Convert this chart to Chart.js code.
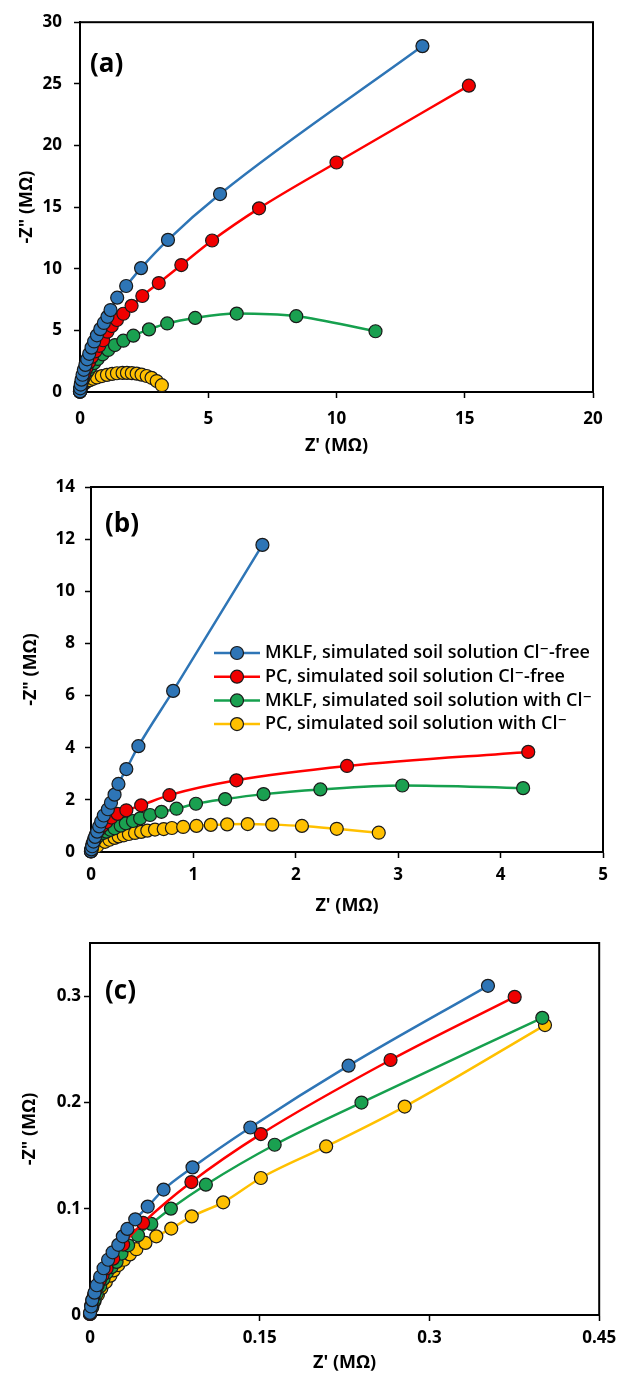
<!DOCTYPE html>
<html>
<head>
<meta charset="utf-8">
<title>EIS Nyquist plots</title>
<script src="https://cdn.jsdelivr.net/npm/chart.js@4.4.0/dist/chart.umd.min.js"></script>
<style>
  body { margin: 0; background: #fff; }
  #wrap { position: relative; width: 623px; height: 1375px; }
  canvas { position: absolute; left: 0; }
</style>
</head>
<body>
<div id="wrap">
  <canvas id="chart-a" width="623" height="460" style="top:0"></canvas>
  <canvas id="chart-b" width="623" height="460" style="top:460px"></canvas>
  <canvas id="chart-c" width="623" height="455" style="top:920px"></canvas>
</div>
<script>
// series names (same order in all three panels)
var seriesLabels = [
  "MKLF, simulated soil solution Cl\u207B-free",
  "PC, simulated soil solution Cl\u207B-free",
  "MKLF, simulated soil solution with Cl\u207B",
  "PC, simulated soil solution with Cl\u207B"
];

// tick labels
var xTicksA = [0, 5, 10, 15, 20];
var yTicksA = [0, 5, 10, 15, 20, 25, 30];
var xTicksB = [0, 1, 2, 3, 4, 5];
var yTicksB = [0, 2, 4, 6, 8, 10, 12, 14];
var xTicksC = [0, 0.15, 0.3, 0.45];
var yTicksC = [0, 0.1, 0.2, 0.3];

// panel (a) - [Z', -Z''] in MOhm
var aMklfFree = [[0,0.05],[0.01,0.3],[0.03,0.6],[0.06,1.0],[0.1,1.4],[0.15,1.8],[0.21,2.2],[0.28,2.65],[0.36,3.1],[0.45,3.6],[0.55,4.1],[0.66,4.6],[0.79,5.1],[0.93,5.6],[1.07,6.1],[1.19,6.65],[1.45,7.65],[1.8,8.6],[2.38,10.05],[3.43,12.34],[5.46,16.06],[13.35,28.06]];
var aPcFree = [[0,0.03],[0.02,0.3],[0.05,0.7],[0.1,1.1],[0.17,1.5],[0.25,1.95],[0.35,2.4],[0.47,2.85],[0.6,3.3],[0.75,3.75],[0.9,4.2],[1.07,4.89],[1.24,5.35],[1.44,5.84],[1.69,6.35],[2.01,6.99],[2.43,7.79],[3.07,8.84],[3.95,10.3],[5.15,12.29],[6.98,14.9],[10.0,18.62],[15.16,24.85]];
var aMklfCl = [[0,0.02],[0.01,0.15],[0.02,0.35],[0.04,0.6],[0.07,0.8],[0.11,1.0],[0.17,1.25],[0.24,1.5],[0.32,1.75],[0.42,2.05],[0.55,2.35],[0.69,2.68],[0.88,3.06],[1.1,3.41],[1.36,3.81],[1.69,4.16],[2.08,4.57],[2.69,5.08],[3.4,5.56],[4.49,6.01],[6.11,6.36],[8.43,6.15],[11.52,4.93]];
var aPcCl = [[0,0.02],[0.01,0.15],[0.03,0.3],[0.06,0.45],[0.12,0.6],[0.18,0.72],[0.27,0.85],[0.38,0.96],[0.51,1.07],[0.66,1.18],[0.85,1.29],[1.05,1.39],[1.25,1.47],[1.44,1.52],[1.66,1.55],[1.83,1.55],[2.02,1.53],[2.21,1.49],[2.4,1.41],[2.6,1.3],[2.79,1.15],[2.99,0.89],[3.19,0.55]];

// panel (b)
var bMklfFree = [[0,0.03],[0.004,0.1],[0.012,0.22],[0.025,0.4],[0.04,0.58],[0.06,0.78],[0.08,0.98],[0.1,1.17],[0.125,1.4],[0.165,1.64],[0.195,1.89],[0.23,2.2],[0.268,2.61],[0.345,3.18],[0.463,4.06],[0.802,6.18],[1.674,11.78]];
var bPcFree = [[0,0.02],[0.005,0.12],[0.015,0.32],[0.03,0.5],[0.05,0.68],[0.08,0.85],[0.11,1.0],[0.15,1.15],[0.2,1.32],[0.26,1.46],[0.345,1.6],[0.49,1.79],[0.766,2.18],[1.42,2.75],[2.5,3.3],[4.27,3.84]];
var bMklfCl = [[0,0.02],[0.005,0.1],[0.015,0.25],[0.03,0.4],[0.05,0.53],[0.08,0.64],[0.12,0.73],[0.15,0.78],[0.19,0.85],[0.23,0.91],[0.29,1.01],[0.34,1.1],[0.41,1.19],[0.48,1.29],[0.577,1.42],[0.688,1.54],[0.835,1.66],[1.025,1.85],[1.31,2.03],[1.685,2.22],[2.24,2.4],[3.04,2.55],[4.22,2.45]];
var bPcCl = [[0,0.04],[0.06,0.22],[0.137,0.39],[0.18,0.47],[0.23,0.54],[0.27,0.6],[0.32,0.64],[0.37,0.69],[0.43,0.73],[0.49,0.77],[0.55,0.82],[0.625,0.86],[0.71,0.88],[0.79,0.92],[0.9,0.96],[1.03,1.0],[1.17,1.04],[1.33,1.06],[1.53,1.07],[1.77,1.05],[2.06,1.0],[2.4,0.89],[2.81,0.74]];

// panel (c)
var cMklfFree = [[0,0.002],[0.001,0.008],[0.002,0.014],[0.004,0.021],[0.006,0.028],[0.009,0.036],[0.012,0.044],[0.016,0.052],[0.02,0.059],[0.025,0.066],[0.029,0.074],[0.033,0.081],[0.04,0.09],[0.051,0.102],[0.065,0.118],[0.0906,0.1389],[0.1417,0.1764],[0.2285,0.2346],[0.3517,0.3097]];
var cPcFree = [[0,0.001],[0.001,0.009],[0.002,0.014],[0.0035,0.0187],[0.005,0.0234],[0.0068,0.028],[0.0088,0.033],[0.0111,0.0375],[0.0147,0.0438],[0.0205,0.053],[0.0293,0.0663],[0.0469,0.0866],[0.0896,0.1251],[0.151,0.1702],[0.2656,0.2399],[0.3753,0.2993]];
var cMklfCl = [[0,0.001],[0.002,0.008],[0.004,0.014],[0.006,0.02],[0.009,0.027],[0.012,0.034],[0.015,0.04],[0.019,0.045],[0.0235,0.05],[0.0278,0.0578],[0.0337,0.0656],[0.0424,0.075],[0.0542,0.0857],[0.0715,0.1001],[0.1024,0.1226],[0.1632,0.1602],[0.2399,0.1999],[0.3997,0.2796]];
var cPcCl = [[0,0.001],[0.002,0.007],[0.004,0.013],[0.007,0.019],[0.01,0.025],[0.014,0.031],[0.018,0.037],[0.021,0.042],[0.025,0.047],[0.03,0.052],[0.0352,0.057],[0.041,0.0619],[0.049,0.0678],[0.0586,0.074],[0.0718,0.0813],[0.0899,0.0928],[0.1177,0.106],[0.151,0.1289],[0.2087,0.1586],[0.2781,0.1961],[0.4021,0.2728]];

var lineColors = ["#2E75B6", "#FF0000", "#16A04E", "#FFC000"];
var fillColors = ["#2E75B6", "#F00000", "#1AA050", "#FFC000"];

var FONT = '"Open Sans", "DejaVu Sans", sans-serif';
var tickFont = { family: FONT, size: 17, weight: 'bold' };
var titleFont = { family: FONT, size: 18, weight: 'bold' };

// frame round the plot area and the (a)/(b)/(c) tag
const framePlugin = {
  id: 'frame',
  beforeDatasetsDraw(chart, args, opts) {
    const { ctx, chartArea: a } = chart;
    ctx.save();
    ctx.strokeStyle = '#000';
    ctx.lineWidth = 2;
    ctx.strokeRect(a.left, a.top, a.right - a.left, a.bottom - a.top);
    ctx.restore();
  },
  afterDraw(chart, args, opts) {
    const { ctx, chartArea: a } = chart;
    ctx.save();
    ctx.fillStyle = '#000';
    ctx.font = 'bold 26px ' + FONT;
    ctx.textBaseline = 'middle';
    ctx.fillText(opts.tag, a.left + opts.tx, a.top + opts.ty);
    ctx.restore();
  }
};

// legend drawn inside the plot of panel (b)
const keyPlugin = {
  id: 'key',
  afterDraw(chart, args, opts) {
    if (!opts.show) return;
    const { ctx, chartArea: a } = chart;
    ctx.save();
    ctx.font = '600 18px ' + FONT;
    ctx.textBaseline = 'middle';
    chart.data.datasets.forEach(function (ds, i) {
      var x = a.left + opts.x0;
      var y = a.top + opts.y0 + i * opts.dy;
      ctx.strokeStyle = ds.borderColor;
      ctx.lineWidth = 2.5;
      ctx.beginPath();
      ctx.moveTo(x, y);
      ctx.lineTo(x + 46, y);
      ctx.stroke();
      ctx.beginPath();
      ctx.arc(x + 23, y, 6.5, 0, Math.PI * 2);
      ctx.fillStyle = ds.pointBackgroundColor;
      ctx.fill();
      ctx.lineWidth = 1.2;
      ctx.strokeStyle = '#1a1a1a';
      ctx.stroke();
      ctx.fillStyle = '#000';
      ctx.fillText(ds.label, x + 51, y);
    });
    ctx.restore();
  }
};

function makeSets(series) {
  return series.map(function (pts, i) {
    return {
      label: seriesLabels[i],
      data: pts.map(function (p) { return { x: p[0], y: p[1] }; }),
      showLine: true,
      borderColor: lineColors[i],
      backgroundColor: fillColors[i],
      pointBackgroundColor: fillColors[i],
      pointBorderColor: '#1a1a1a',
      pointBorderWidth: 1.2,
      pointRadius: 6.5,
      pointHoverRadius: 6.5,
      borderWidth: 2.5,
      cubicInterpolationMode: 'monotone',
      clip: false
    };
  });
}

function makeChart(id, series, p) {
  const ctx = document.getElementById(id).getContext('2d');
  return new Chart(ctx, {
    type: 'scatter',
    data: { datasets: makeSets(series) },
    plugins: [framePlugin, keyPlugin],
    options: {
      responsive: false,
      animation: false,
      layout: { padding: { left: 8, top: p.top, right: p.right, bottom: 0 } },
      plugins: {
        legend: { display: false },
        tooltip: { enabled: false },
        frame: { tag: p.tag, tx: p.tx, ty: p.ty },
        key: p.key || { show: false }
      },
      scales: {
        x: {
          type: 'linear',
          min: p.xTicks[0],
          max: p.xTicks[p.xTicks.length - 1],
          afterBuildTicks: function (s) { s.ticks = p.xTicks.map(function (v) { return { value: v }; }); },
          afterFit: function (s) { s.height = p.xH; },
          grid: { drawOnChartArea: false, drawTicks: true, tickLength: 6, tickWidth: 1.5, tickColor: '#000' },
          border: { display: true, color: '#000', width: 2 },
          ticks: { color: '#000', font: tickFont, padding: p.xPad, maxRotation: 0, autoSkip: false,
                   callback: function (v) { return String(v); } },
          title: { display: true, text: "Z' (M\u03A9)", color: '#000', font: titleFont,
                   padding: { top: 0, bottom: p.xTitlePad } }
        },
        y: {
          type: 'linear',
          min: 0,
          max: p.yMax,
          afterBuildTicks: function (s) { s.ticks = p.yTicks.map(function (v) { return { value: v }; }); },
          afterFit: function (s) { s.width = p.yW; },
          grid: { drawOnChartArea: false, drawTicks: true, tickLength: 6, tickWidth: 1.5, tickColor: '#000' },
          border: { display: true, color: '#000', width: 2 },
          ticks: { color: '#000', font: tickFont, padding: p.yPad, autoSkip: false,
                   callback: function (v) { return String(v); } },
          title: { display: true, text: '-Z" (M\u03A9)', color: '#000', font: titleFont,
                   padding: { top: p.yTitlePad, bottom: 0 } }
        }
      }
    }
  });
}

makeChart('chart-a', [aMklfFree, aPcFree, aMklfCl, aPcCl], {
  tag: '(a)', tx: 10, ty: 42,
  top: 22, right: 30, xH: 68, yW: 72,
  xTicks: xTicksA, yTicks: yTicksA, yMax: 30,
  xPad: 10.8, yPad: 12, xTitlePad: 3.2, yTitlePad: 8.2
});

makeChart('chart-b', [bMklfFree, bPcFree, bMklfCl, bPcCl], {
  tag: '(b)', tx: 14, ty: 38,
  top: 27, right: 20, xH: 68, yW: 83,
  xTicks: xTicksB, yTicks: yTicksB, yMax: 14,
  xPad: 6.8, yPad: 10, xTitlePad: 3.2, yTitlePad: 12.2,
  key: { show: true, x0: 123, y0: 166, dy: 23.7 }
});

makeChart('chart-c', [cMklfFree, cPcFree, cMklfCl, cPcCl], {
  tag: '(c)', tx: 15, ty: 49,
  top: 23, right: 21, xH: 60, yW: 82,
  xTicks: xTicksC, yTicks: yTicksC, yMax: 0.35,
  xPad: 6.8, yPad: 3, xTitlePad: 1.2, yTitlePad: 11.2
});
</script>
</body>
</html>
